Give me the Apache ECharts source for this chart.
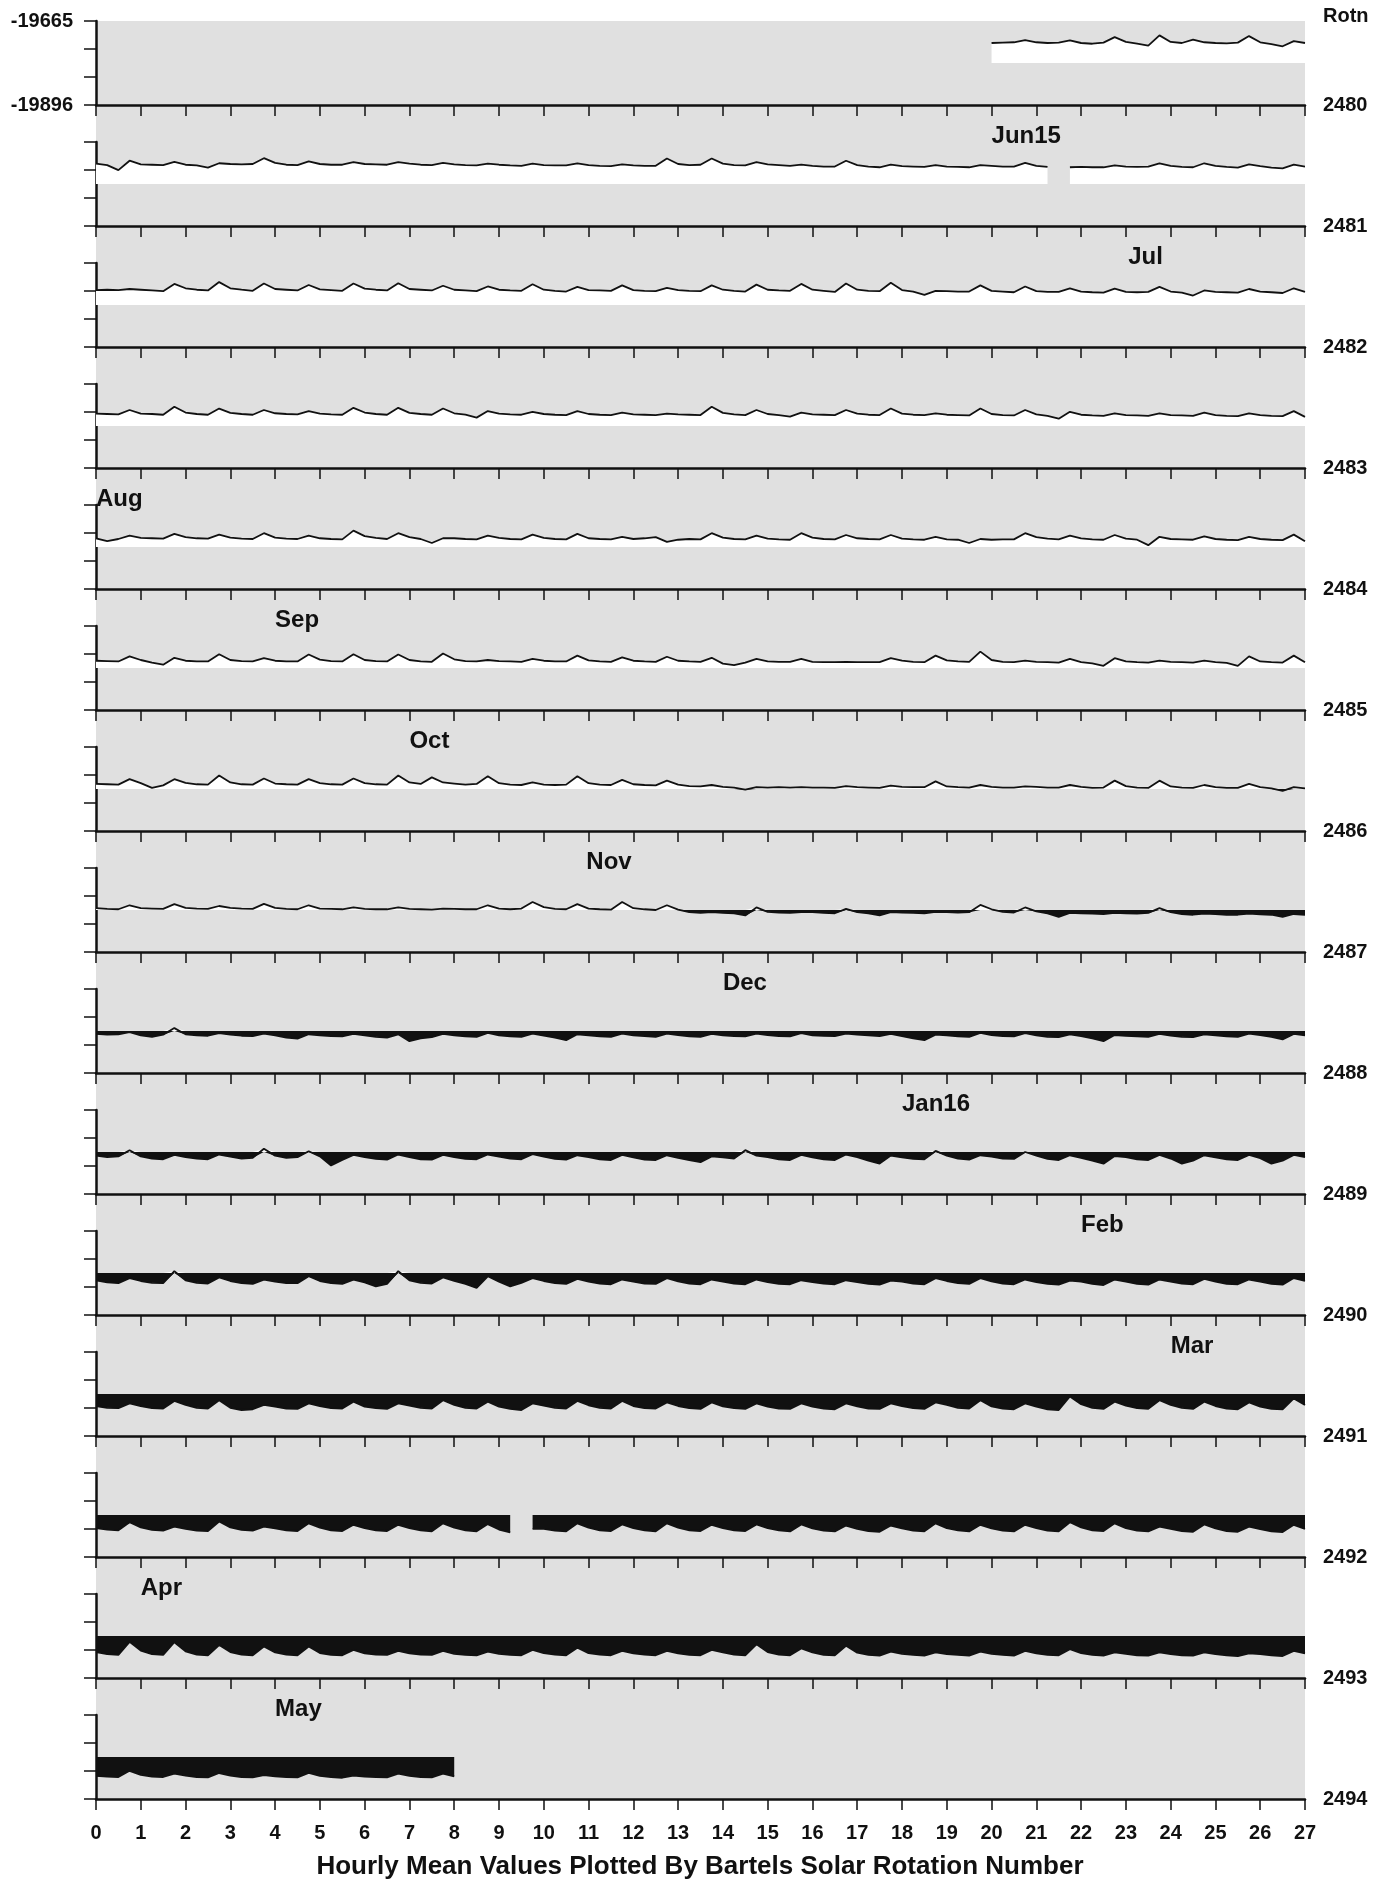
<!DOCTYPE html>
<html>
<head>
<meta charset="utf-8">
<title>Bartels rotation plot</title>
<script src="https://cdn.jsdelivr.net/npm/echarts@6/dist/echarts.min.js"></script>
<style>
  html, body { margin: 0; padding: 0; background: #fff; }
  #chart { width: 1384px; height: 1883px; }
</style>
</head>
<body>
<div id="chart"></div>
<script>
// every panel shares the same axis range (nT); fill is drawn from the mid level
const Y_MIN = -19896
const Y_MAX = -19665
const Y_MID = (Y_MIN + Y_MAX) / 2

const rotations = [2480, 2481, 2482, 2483, 2484, 2485, 2486, 2487, 2488, 2489, 2490, 2491, 2492, 2493, 2494]
// day of the rotation where each record starts, samples every 6 h
const startDay = [20, 0, 0, 0, 0, 0, 0, 0, 0, 0, 0, 0, 0, 0, 0]
const STEP = 0.25

// values in nT above (+) or below (-) Y_MID, null = missing
const rot2480 = [
  55,56,57,63, 57,55,56,62, 55,53,56,71,
  58,53,48,76, 58,55,64,57, 55,54,56,74,
  57,52,46,60, 55]
const rot2481 = [
  56,52,38,64, 54,53,52,61, 53,51,45,57,
  55,54,55,71, 58,53,52,62, 55,53,53,60,
  55,54,53,60, 56,53,52,58, 54,52,51,56,
  53,51,50,56, 52,51,51,57, 52,50,49,54,
  51,50,50,70, 55,52,53,70, 56,52,51,60,
  54,52,50,53, 50,48,48,64, 52,48,46,53,
  49,48,47,52, 48,47,46,52, 50,48,48,58,
  50,47,null,46, 47,46,46,51, 48,47,48,57,
  50,47,46,57, 50,47,45,54, 49,45,43,53,
  48]
const rot2482 = [
  41,42,41,44, 42,40,38,58, 46,42,40,63,
  46,42,39,59, 44,42,40,55, 43,41,39,59,
  45,42,40,60, 44,42,40,53, 42,40,38,51,
  42,40,39,57, 42,39,37,50, 41,40,39,54,
  41,39,38,47, 41,39,38,54, 42,39,37,56,
  42,40,39,58, 42,39,36,59, 42,39,38,61,
  41,37,28,39, 38,37,37,54, 39,37,35,51,
  38,36,36,46, 37,35,34,45, 36,35,36,50,
  37,34,26,40, 36,35,34,44, 37,35,33,46,
  36]
const rot2483 = [
  34,33,32,44, 34,33,31,53, 37,33,31,48,
  36,33,31,44, 35,33,32,41, 34,32,31,50,
  37,33,31,50, 36,33,31,48, 35,31,23,41,
  34,32,31,39, 33,31,30,41, 33,31,30,37,
  32,31,30,34, 32,31,30,53, 36,32,30,44,
  33,30,26,37, 32,31,30,44, 34,31,30,48,
  34,31,30,35, 31,30,29,48, 33,30,29,44,
  32,28,20,39, 31,29,28,35, 30,29,28,35,
  30,29,28,37, 30,28,27,35, 30,28,27,41,
  25]
const rot2484 = [
  24,16,22,31, 25,24,23,36, 27,24,23,34,
  26,23,22,38, 26,23,22,31, 24,22,21,45,
  30,25,22,38, 27,22,11,24, 24,22,21,31,
  25,22,21,34, 25,22,21,36, 24,22,21,28,
  22,24,27,14, 20,22,21,38, 26,22,21,31,
  23,21,20,38, 26,22,21,33, 24,22,21,33,
  23,21,20,28, 21,20,11,22, 20,21,21,38,
  27,23,21,31, 24,21,20,33, 23,20,5,28,
  22,21,20,29, 22,20,19,28, 22,20,19,34,
  16]
const rot2485 = [
  20,19,18,32, 22,15,9,28, 20,18,18,38,
  22,19,18,27, 20,18,18,37, 23,19,18,38,
  22,19,18,37, 22,18,17,40, 24,19,18,22,
  19,18,17,25, 20,18,18,34, 21,18,17,29,
  20,18,17,31, 20,18,17,28, 12,8,15,25,
  18,17,17,25, 17,16,16,17, 16,16,16,27,
  20,17,16,34, 21,18,17,45, 22,17,16,20,
  17,16,15,25, 16,13,6,27, 18,16,15,20,
  17,16,15,20, 16,14,6,32, 18,16,15,34,
  16]
const rot2486 = [
  14,13,12,27, 16,3,10,27, 17,13,12,37,
  18,13,12,29, 15,13,12,27, 16,13,12,29,
  16,13,12,37, 18,14,32,18, 15,12,14,35,
  16,12,11,18, 12,11,12,35, 16,12,11,25,
  13,11,10,23, 12,8,7,11, 6,4,-2,5,
  4,5,4,5, 4,4,3,8, 5,4,3,9,
  6,5,5,21, 7,5,4,11, 6,4,4,7,
  6,4,4,11, 6,3,4,23, 8,4,3,23,
  7,4,3,11, 5,3,3,14, 5,2,-5,5,
  2]
const rot2487 = [
  5,3,2,13, 5,4,3,16, 6,4,3,11,
  6,4,3,17, 6,3,2,13, 4,3,2,7,
  3,2,2,7, 3,2,1,4, 3,2,2,13,
  4,2,4,22, 8,3,2,16, 4,2,1,22,
  5,2,0,13, 1,-6,-8,-6, -8,-9,-15,7,
  -5,-7,-8,-6, -6,-8,-9,3, -6,-9,-15,-6,
  -7,-8,-9,-5, -6,-7,-6,14, 2,-5,-7,7,
  -4,-9,-19,-8, -9,-10,-11,-8, -9,-10,-8,5,
  -6,-11,-13,-10, -11,-13,-13,-10, -12,-13,-19,-11,
  -13]
const rot2488 = [
  -8,-10,-9,-3, -12,-16,-10,8, -9,-12,-13,-6,
  -10,-13,-14,-7, -12,-18,-21,-9, -12,-14,-15,-8,
  -12,-16,-18,-9, -28,-20,-17,-8, -12,-15,-16,-5,
  -12,-15,-16,-7, -13,-18,-25,-9, -12,-15,-16,-7,
  -12,-14,-16,-7, -11,-15,-16,-8, -12,-14,-15,-7,
  -11,-14,-15,-6, -12,-13,-14,-7, -10,-12,-14,-8,
  -14,-20,-25,-10, -12,-15,-16,-5, -11,-14,-15,-6,
  -12,-16,-17,-9, -14,-20,-28,-11, -13,-15,-16,-8,
  -13,-16,-17,-9, -12,-15,-16,-7, -11,-16,-23,-8,
  -12]
const rot2489 = [
  -10,-14,-12,5, -12,-18,-20,-8, -14,-18,-20,-7,
  -13,-18,-16,9, -10,-16,-14,2, -12,-37,-22,-8,
  -14,-19,-21,-7, -14,-20,-21,-8, -14,-19,-20,-7,
  -13,-18,-20,-6, -13,-19,-21,-9, -14,-20,-22,-8,
  -15,-21,-22,-9, -16,-22,-28,-12, -15,-18,5,-10,
  -14,-20,-22,-8, -15,-20,-22,-7, -14,-24,-32,-10,
  -15,-19,-20,3, -10,-18,-21,-9, -13,-18,-19,0,
  -10,-19,-22,-9, -16,-24,-32,-11, -14,-20,-22,-8,
  -18,-32,-24,-9, -15,-20,-22,-8, -17,-32,-24,-8,
  -14]
const rot2490 = [
  -20,-26,-28,-14, -22,-27,-28,5, -20,-27,-29,-12,
  -22,-28,-30,-18, -24,-28,-28,-9, -22,-28,-30,-18,
  -26,-37,-30,5, -20,-27,-29,-12, -22,-30,-41,-9,
  -24,-37,-27,-14, -22,-28,-30,-16, -24,-29,-31,-18,
  -24,-29,-30,-14, -23,-29,-31,-18, -24,-29,-31,-18,
  -25,-30,-31,-20, -25,-29,-31,-20, -25,-30,-32,-21,
  -24,-29,-31,-14, -22,-28,-30,-14, -23,-29,-31,-18,
  -25,-30,-32,-21, -24,-30,-33,-18, -24,-30,-32,-18,
  -24,-29,-31,-16, -24,-30,-31,-18, -24,-30,-32,-14,
  -22]
const rot2491 = [
  -33,-38,-39,-26, -33,-39,-40,-19, -30,-38,-40,-17,
  -38,-44,-42,-30, -35,-40,-41,-26, -33,-39,-40,-21,
  -35,-39,-41,-26, -32,-38,-40,-17, -30,-38,-40,-21,
  -35,-41,-44,-26, -32,-38,-40,-19, -31,-38,-40,-19,
  -33,-39,-40,-23, -33,-39,-41,-23, -34,-39,-41,-26,
  -35,-40,-41,-26, -35,-40,-42,-26, -34,-40,-41,-26,
  -33,-39,-41,-23, -30,-38,-40,-17, -34,-40,-42,-26,
  -35,-42,-44,-7, -28,-38,-41,-21, -32,-39,-41,-17,
  -30,-38,-41,-21, -33,-40,-42,-23, -35,-41,-42,-12,
  -30]
const rot2492 = [
  -36,-40,-42,-20, -34,-41,-43,-32, -38,-43,-44,-18,
  -34,-41,-43,-32, -37,-42,-44,-23, -35,-42,-44,-27,
  -36,-42,-44,-27, -36,-42,-45,-23, -35,-42,-45,-25,
  -40,-48,null,-38, -38,-43,-45,-23, -35,-42,-44,-26,
  -36,-42,-45,-23, -35,-42,-44,-27, -36,-42,-44,-26,
  -36,-42,-45,-26, -37,-43,-45,-29, -38,-44,-46,-29,
  -37,-43,-45,-23, -36,-42,-45,-27, -37,-43,-45,-27,
  -36,-43,-45,-20, -34,-42,-44,-23, -36,-43,-45,-32,
  -38,-44,-46,-26, -37,-44,-46,-32, -39,-45,-47,-27,
  -38]
const rot2493 = [
  -44,-50,-52,-16, -40,-50,-52,-17, -42,-51,-53,-25,
  -44,-51,-53,-29, -45,-51,-53,-29, -47,-52,-53,-38,
  -48,-51,-52,-41, -48,-51,-52,-41, -49,-52,-53,-43,
  -49,-52,-53,-38, -47,-51,-53,-32, -47,-51,-53,-41,
  -48,-51,-53,-41, -48,-52,-53,-38, -45,-51,-53,-23,
  -44,-51,-53,-34, -45,-52,-53,-27, -46,-52,-54,-43,
  -49,-52,-54,-45, -50,-52,-54,-43, -49,-52,-54,-41,
  -48,-52,-53,-36, -47,-52,-54,-45, -49,-53,-54,-45,
  -50,-53,-54,-45, -50,-53,-55,-48, -50,-53,-55,-41,
  -48]
const rot2494 = [
  -52,-54,-55,-38, -49,-54,-55,-46, -51,-55,-56,-44,
  -51,-55,-56,-50, -53,-55,-56,-44, -52,-55,-57,-51,
  -54,-55,-56,-46, -52,-55,-56,-46,
  -53]

const rotValues = [rot2480, rot2481, rot2482, rot2483, rot2484, rot2485, rot2486, rot2487,
  rot2488, rot2489, rot2490, rot2491, rot2492, rot2493, rot2494]

// month markers: label, rotation panel, day in rotation
const monthNames = ['Jun15', 'Jul', 'Aug', 'Sep', 'Oct', 'Nov', 'Dec', 'Jan16', 'Feb', 'Mar', 'Apr', 'May']
const monthRot = [2481, 2482, 2484, 2485, 2486, 2487, 2488, 2489, 2490, 2491, 2493, 2494]
const monthDay = [20, 23.05, 0, 4, 7, 10.95, 14, 18, 22, 24, 1, 4]

const yTickLabels = ['-19896', '-19665']
const X_MAX = 27
const TITLE = 'Hourly Mean Values Plotted By Bartels Solar Rotation Number'

// layout
const LEFT = 96
const RIGHT = 1305
const FIRST_BOTTOM = 105
const PITCH = 121
const AXIS_H = 84
const FONT = '"Liberation Sans", Arial, Helvetica, sans-serif'
const INK = '#111'

const OFF = Y_MID - Y_MIN // axis runs 0 .. (Y_MAX - Y_MIN)
const SPAN = Y_MAX - Y_MIN
const bottomOf = i => FIRST_BOTTOM + PITCH * i
const dayToX = d => LEFT + d * (RIGHT - LEFT) / X_MAX

const chart = echarts.init(document.getElementById('chart'), null, {renderer: 'canvas'})

const grids = [], xAxes = [], yAxes = [], series = []
const last = rotations.length - 1

rotations.forEach((rot, i) => {
  grids.push({
    left: LEFT, right: 1384 - RIGHT, top: bottomOf(i) - AXIS_H, height: AXIS_H,
    show: false, containLabel: false, outerBoundsMode: 'none'
  })
  xAxes.push({
    gridIndex: i, type: 'value', min: 0, max: X_MAX, interval: 1,
    axisLine: {show: true, onZero: false, lineStyle: {color: INK, width: 2.5}},
    axisTick: {show: true, length: 11, lineStyle: {color: INK, width: 1.5}},
    splitLine: {show: false},
    axisLabel: {
      show: i === last, margin: 24, color: INK, fontFamily: FONT,
      fontWeight: 'bold', fontSize: 20, hideOverlap: false
    },
    name: String(rot), nameLocation: 'end', nameGap: 18,
    nameTextStyle: {
      color: INK, fontFamily: FONT, fontWeight: 'bold', fontSize: 20,
      align: 'left', verticalAlign: 'middle', padding: [0, 0, 20, 0]
    }
  })
  yAxes.push({
    gridIndex: i, type: 'value', min: 0, max: SPAN, interval: SPAN / 3,
    axisLine: {show: true, lineStyle: {color: INK, width: 2.5}},
    axisTick: {show: true, length: 12, lineStyle: {color: INK, width: 1.5}},
    splitLine: {show: false},
    axisLabel: {
      show: i === 0, margin: 23, color: INK, fontFamily: FONT,
      fontWeight: 'bold', fontSize: 20, showMinLabel: true, showMaxLabel: true,
      formatter: v => v === 0 ? yTickLabels[0] : (Math.abs(v - SPAN) < 0.01 ? yTickLabels[1] : '')
    }
  })

  const vals = rotValues[i]
  const pts = f => vals.map((v, k) => [startDay[i] + k * STEP, v == null ? '-' : f(v) + OFF])
  const base = {
    type: 'line', xAxisIndex: i, yAxisIndex: i, symbol: 'none', silent: true,
    animation: false, connectNulls: false
  }
  // white where the field is above the mid level, black where below
  series.push(Object.assign({}, base, {
    data: pts(v => Math.max(v, 0)), z: 2,
    lineStyle: {width: 0, opacity: 0},
    areaStyle: {color: '#fff', opacity: 1, origin: OFF}
  }))
  series.push(Object.assign({}, base, {
    data: pts(v => Math.min(v, 0)), z: 2,
    lineStyle: {width: 0, opacity: 0},
    areaStyle: {color: INK, opacity: 1, origin: OFF}
  }))
  series.push(Object.assign({}, base, {
    data: pts(v => v), z: 3,
    lineStyle: {color: INK, width: 1.8}
  }))
})

const graphics = [{
  type: 'rect', z: -10, silent: true,
  shape: {x: LEFT, y: FIRST_BOTTOM - AXIS_H, width: RIGHT - LEFT, height: PITCH * last + AXIS_H},
  style: {fill: '#e0e0e0'}
}, {
  type: 'text', silent: true,
  style: {x: 1323, y: 16, text: 'Rotn', font: 'bold 20px ' + FONT, fill: INK,
    textAlign: 'left', textVerticalAlign: 'middle'}
}, {
  type: 'text', silent: true,
  style: {x: 700, y: 1867, text: TITLE, font: 'bold 26px ' + FONT, fill: INK,
    textAlign: 'center', textVerticalAlign: 'middle'}
}]

monthNames.forEach((m, k) => {
  const i = rotations.indexOf(monthRot[k])
  graphics.push({
    type: 'text', silent: true,
    style: {x: dayToX(monthDay[k]), y: bottomOf(i) - PITCH + 31, text: m,
      font: 'bold 24px ' + FONT, fill: INK, textAlign: 'left', textVerticalAlign: 'middle'}
  })
})

chart.setOption({
  animation: false,
  backgroundColor: '#fff',
  textStyle: {fontFamily: FONT},
  grid: grids,
  xAxis: xAxes,
  yAxis: yAxes,
  series: series,
  graphic: {elements: graphics}
})
</script>
</body>
</html>
